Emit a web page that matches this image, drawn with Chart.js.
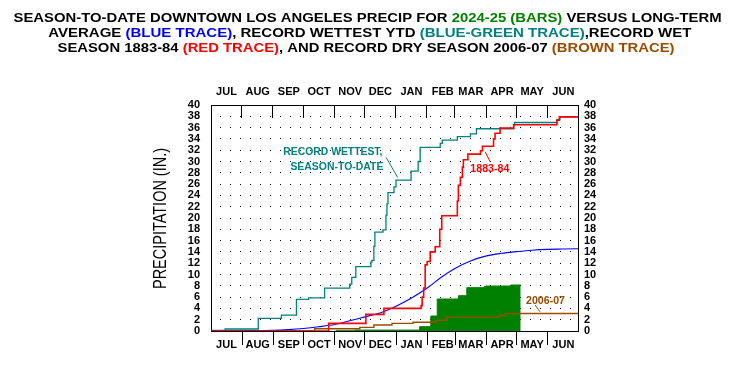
<!DOCTYPE html>
<html>
<head>
<meta charset="utf-8">
<script src="https://cdn.jsdelivr.net/npm/chart.js@4"></script>
<style>
  html, body { margin: 0; padding: 0; background: #fff; }
  #wrap { width: 744px; height: 370px; position: relative; }
</style>
</head>
<body>
<div id="wrap"><canvas id="precipChart"></canvas></div>
<script>
// Season runs Jul 1 -> Jun 30, x values are days since Jul 1
const monthStartDays = [0, 31, 62, 92, 123, 153, 184, 215, 243, 274, 304, 335, 365];
const monthLabels = ['JUL', 'AUG', 'SEP', 'OCT', 'NOV', 'DEC', 'JAN', 'FEB', 'MAR', 'APR', 'MAY', 'JUN'];
const yTickValues = [0, 2, 4, 6, 8, 10, 12, 14, 16, 18, 20, 22, 24, 26, 28, 30, 32, 34, 36, 38, 40];

// 2024-25 season to date (bars)
const seasonDays = [124, 143, 207.5, 218.6, 225, 246, 254.4, 271.6, 273.3, 298, 308];
const seasonPrecip = [0.05, 0.16, 0.77, 2.65, 5.66, 6.25, 7.67, 7.85, 7.96, 8.14, 8.14];

// long-term average
const avgDays = [0, 31, 62, 77, 92, 107, 123, 138, 153, 168, 184, 199, 215, 229, 243, 258, 274, 289, 304, 319, 335, 350, 365];
const avgPrecip = [0, 0.05, 0.12, 0.25, 0.45, 0.75, 1.15, 1.8, 2.5, 3.2, 4.4, 5.8, 7.6, 9.5, 11.1, 12.4, 13.3, 13.75, 14.05, 14.3, 14.45, 14.5, 14.55];

// record wettest season-to-date
const wettestDays = [0, 14, 47, 70, 85, 97, 113, 138, 140, 144, 159, 160, 162, 163, 171, 174, 175, 176, 182, 184, 199, 206, 208, 228, 230, 245, 258, 264, 301, 302, 344, 347, 365];
const wettestPrecip = [0.1, 0.35, 2.25, 2.8, 5.6, 5.85, 7.6, 8.3, 9.5, 11.4, 12.2, 12.5, 15, 17.5, 17.9, 20.5, 22.5, 24.5, 25.5, 26.7, 28.3, 30, 32.5, 33.2, 33.8, 34.4, 34.9, 35.8, 36.5, 36.9, 37.4, 37.9, 37.9];

// record wet season 1883-84
const wet1883Days = [0, 117, 154, 172, 209, 210, 211.5, 213, 215, 218, 223, 227.5, 229.5, 245, 246, 248, 250, 251, 255.5, 268, 270, 281, 282.5, 287.5, 301, 344, 346.5, 365];
const wet1883Precip = [0, 1.35, 2.95, 4.0, 4.5, 6.0, 7.6, 11.7, 12.3, 14.0, 14.9, 18, 20.4, 23, 25.8, 27.2, 29, 30.3, 31.3, 31.9, 32.7, 34, 35, 35.9, 36.5, 37.3, 37.9, 37.9];

// record dry season 2006-07
const dry2006Days = [0, 103, 148, 162, 180, 201, 224, 234.5, 286.5, 292.5, 365];
const dry2006Precip = [0, 0.4, 0.65, 1.05, 1.35, 1.55, 1.9, 2.45, 2.7, 3.1, 3.1];

const GREEN = '#008000', BLUE = '#0000ff', TEAL = '#008080', RED = '#ff0000', BROWN = '#994c00';
const FONT = '"Liberation Sans", Arial, sans-serif';

function toPoints(days, vals) {
    return days.map((d, i) => ({ x: d, y: vals[i] }));
}

const titleLines = [
    { cx: 367.5, base: 22, width: 708, parts: [
        ['SEASON-TO-DATE DOWNTOWN LOS ANGELES PRECIP FOR ', '#000'],
        ['2024-25 (BARS)', GREEN],
        [' VERSUS LONG-TERM', '#000']] },
    { cx: 369.8, base: 37, width: 643, parts: [
        ['AVERAGE ', '#000'],
        ['(BLUE TRACE)', BLUE],
        [', RECORD WETTEST YTD ', '#000'],
        ['(BLUE-GREEN TRACE)', TEAL],
        [',RECORD WET', '#000']] },
    { cx: 366, base: 52, width: 617, parts: [
        ['SEASON 1883-84 ', '#000'],
        ['(RED TRACE)', RED],
        [', AND RECORD DRY SEASON 2006-07 ', '#000'],
        ['(BROWN TRACE)', BROWN]] }
];

// in-plot notes, placed in data units
const notes = [
    { text: 'RECORD WETTEST,', day: 121.2, val: 31.6, color: TEAL, w: 99 },
    { text: 'SEASON-TO-DATE', day: 125.2, val: 29.1, color: TEAL, w: 93 },
    { text: '1883-84', day: 277.3, val: 28.7, color: RED, w: 39 },
    { text: '2006-07', day: 332.7, val: 5.3, color: BROWN, w: 39 }
];
const leaders = [
    { from: [174.2, 30.7], to: [185.6, 27.2], color: TEAL },
    { from: [272.6, 31.7], to: [277.6, 30.0], color: RED },
    { from: [322.3, 4.6], to: [327.2, 3.4], color: BROWN }
];

const decorPlugin = {
    id: 'decor',
    afterDraw(chart) {
        const ctx = chart.ctx;
        const xs = chart.scales.x, ys = chart.scales.y;
        const area = chart.chartArea;

        ctx.save();
        // inward ticks along the top border
        ctx.strokeStyle = '#000';
        ctx.lineWidth = 1;
        monthStartDays.slice(1, -1).forEach(d => {
            const px = Math.round(xs.getPixelForValue(d)) - 0.5;
            ctx.beginPath();
            ctx.moveTo(px, area.top);
            ctx.lineTo(px, area.top + 13);
            ctx.stroke();
        });

        // leader lines
        leaders.forEach(l => {
            ctx.strokeStyle = l.color;
            ctx.beginPath();
            ctx.moveTo(xs.getPixelForValue(l.from[0]), ys.getPixelForValue(l.from[1]));
            ctx.lineTo(xs.getPixelForValue(l.to[0]), ys.getPixelForValue(l.to[1]));
            ctx.stroke();
        });

        // notes
        ctx.font = 'bold 11px ' + FONT;
        ctx.textAlign = 'center';
        ctx.textBaseline = 'middle';
        notes.forEach(n => {
            ctx.fillStyle = n.color;
            ctx.fillText(n.text, xs.getPixelForValue(n.day), ys.getPixelForValue(n.val), n.w);
        });

        // y-axis title
        ctx.save();
        ctx.translate(160.3, 218.5);
        ctx.rotate(-Math.PI / 2);
        ctx.font = '19px ' + FONT;
        ctx.fillStyle = '#000';
        ctx.fillText('PRECIPITATION (IN.)', 0, 0, 141);
        ctx.restore();

        // multi-coloured title
        ctx.font = 'bold 12.5px ' + FONT;
        ctx.textAlign = 'left';
        ctx.textBaseline = 'alphabetic';
        titleLines.forEach(line => {
            const total = line.parts.reduce((s, p) => s + ctx.measureText(p[0]).width, 0);
            ctx.save();
            ctx.translate(line.cx - line.width / 2, line.base);
            ctx.scale(line.width / total, 1);
            let x = 0;
            line.parts.forEach(([t, c]) => {
                ctx.fillStyle = c;
                ctx.fillText(t, x, 0);
                x += ctx.measureText(t).width;
            });
            ctx.restore();
        });
        ctx.restore();
    }
};

const monthTicks = scale => { scale.ticks = monthStartDays.map(v => ({ value: v })); };
const yTicks = scale => { scale.ticks = yTickValues.map(v => ({ value: v })); };
const tickFont = { family: FONT, size: 11, weight: 'bold' };

function lineSet(label, days, vals, color, width) {
    return {
        label: label,
        data: toPoints(days, vals),
        borderColor: color,
        borderWidth: width,
        pointRadius: 0,
        fill: false,
        stepped: true
    };
}

const avgSet = {
    label: 'Average',
    data: toPoints(avgDays, avgPrecip),
    borderColor: BLUE,
    borderWidth: 1.1,
    pointRadius: 0,
    fill: false,
    cubicInterpolationMode: 'monotone'
};

const seasonSet = {
    label: '2024-25',
    data: toPoints(seasonDays, seasonPrecip),
    borderColor: GREEN,
    backgroundColor: GREEN,
    borderWidth: 1,
    pointRadius: 0,
    fill: 'origin',
    stepped: true
};

new Chart(document.getElementById('precipChart'), {
    type: 'line',
    data: {
        datasets: [
            lineSet('1883-84', wet1883Days, wet1883Precip, RED, 1.6),
            avgSet,
            lineSet('2006-07', dry2006Days, dry2006Precip, BROWN, 1.4),
            lineSet('Record wettest', wettestDays, wettestPrecip, TEAL, 1.3),
            seasonSet
        ]
    },
    options: {
        responsive: true,
        maintainAspectRatio: false,
        animation: false,
        layout: { padding: { top: 80, bottom: 19, left: 180, right: 136 } },
        plugins: {
            legend: { display: false },
            tooltip: { enabled: false },
            title: { display: false }
        },
        scales: {
            x: {
                type: 'linear', position: 'bottom', min: 0, max: 365,
                afterBuildTicks: monthTicks,
                afterFit: s => { s.height = 20; },
                ticks: {
                    autoSkip: false, maxRotation: 0, minRotation: 0,
                    labelOffset: 15.5, padding: -7,
                    font: tickFont, color: '#000',
                    callback: (v, i) => monthLabels[i] || ''
                },
                grid: {
                    drawOnChartArea: false, drawTicks: true, tickLength: 14,
                    color: c => (c.index === 0 || c.index === monthStartDays.length - 1) ? 'rgba(0,0,0,0)' : '#000'
                },
                border: { display: true, color: '#000', width: 1 }
            },
            x2: {
                type: 'linear', position: 'top', min: 0, max: 365,
                afterBuildTicks: monthTicks,
                afterFit: s => { s.height = 25; },
                ticks: {
                    autoSkip: false, maxRotation: 0, minRotation: 0,
                    labelOffset: 15.5, padding: 6.4,
                    font: tickFont, color: '#000',
                    callback: (v, i) => monthLabels[i] || ''
                },
                grid: { display: false, drawTicks: false, drawOnChartArea: false },
                border: { display: true, color: '#000', width: 1 }
            },
            y: {
                type: 'linear', position: 'left', min: 0, max: 40,
                afterBuildTicks: yTicks,
                afterFit: s => { s.width = 31; },
                ticks: { autoSkip: false, font: tickFont, color: '#000', padding: 11 },
                grid: { color: '#000', lineWidth: 1, drawTicks: false },
                border: { display: true, color: '#000', width: 1, dash: [1, 9], dashOffset: 2 }
            },
            y2: {
                type: 'linear', position: 'right', min: 0, max: 40,
                afterBuildTicks: yTicks,
                afterFit: s => { s.width = 30; },
                ticks: { autoSkip: false, font: tickFont, color: '#000', padding: 6 },
                grid: { drawOnChartArea: false, drawTicks: false },
                border: { display: true, color: '#000', width: 1 }
            }
        }
    },
    plugins: [decorPlugin]
});
</script>
</body>
</html>
